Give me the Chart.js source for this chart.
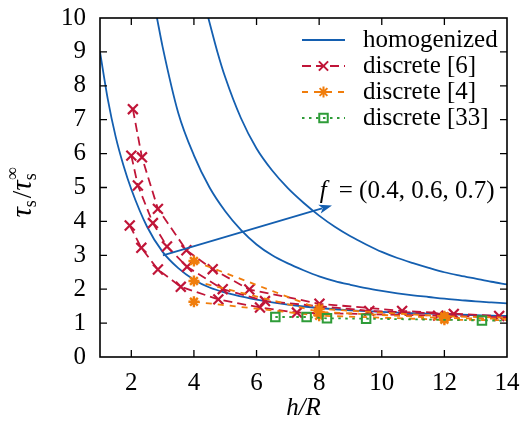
<!DOCTYPE html>
<html><head><meta charset="utf-8">
<script src="https://cdn.jsdelivr.net/npm/chart.js@4/dist/chart.umd.min.js"></script>
<style>html,body{margin:0;padding:0;background:#fff;}#wrap{width:520px;height:428px;}</style>
</head><body><div id="wrap"><canvas id="c" width="520" height="428"></canvas></div>
<script>
// ---- tick values ----
const xTickValues = [2, 4, 6, 8, 10, 12, 14];
const yTickValues = [0, 1, 2, 3, 4, 5, 6, 7, 8, 9, 10];

// ---- homogenized curves (f = 0.4, 0.6, 0.7) ----
const homX04 = [1, 1.25, 1.5, 1.75, 2, 2.5, 3, 3.5, 4, 4.5, 5, 5.5, 6, 6.5, 7, 7.5, 8, 8.5, 9, 9.5, 10, 10.5, 11, 11.5, 12, 12.5, 13, 13.5, 14];
const homY04 = [9.0, 7.6, 6.5, 5.65, 4.95, 3.85, 3.1, 2.62, 2.28, 2.05, 1.9, 1.79, 1.69, 1.61, 1.545, 1.49, 1.445, 1.408, 1.378, 1.352, 1.33, 1.31, 1.293, 1.277, 1.262, 1.248, 1.235, 1.222, 1.21];
const homX06 = [2.82, 3.0, 3.5, 4.0, 4.5, 5.0, 5.5, 6.0, 6.5, 7.0, 7.5, 8.0, 8.5, 9.0, 9.5, 10, 10.5, 11, 11.5, 12, 12.5, 13, 13.5, 14];
const homY06 = [10, 9.15, 7.2, 5.95, 5.0, 4.3, 3.75, 3.32, 3.0, 2.76, 2.56, 2.38, 2.24, 2.13, 2.03, 1.95, 1.88, 1.82, 1.77, 1.72, 1.68, 1.64, 1.61, 1.58];
const homX07 = [4.46, 4.75, 5.0, 5.5, 6.0, 6.5, 7.0, 7.5, 8.0, 8.5, 9.0, 9.5, 10, 10.5, 11, 11.5, 12, 12.5, 13, 13.5, 14];
const homY07 = [10, 9.0, 8.25, 7.05, 6.15, 5.5, 4.98, 4.55, 4.17, 3.84, 3.56, 3.32, 3.1, 2.92, 2.77, 2.63, 2.5, 2.4, 2.31, 2.22, 2.14];

// ---- discrete [6] ----
const d6X_a = [2.05, 2.34, 2.85, 3.76, 4.6, 5.77, 8.01, 10.65, 13.75];
const d6Y_a = [7.31, 5.89, 4.37, 3.15, 2.59, 1.99, 1.57, 1.36, 1.21];
const d6X_b = [2.0, 2.21, 2.69, 3.14, 3.78, 4.92, 6.27, 9.6, 12.3];
const d6Y_b = [5.94, 5.06, 3.95, 3.26, 2.66, 2.0, 1.65, 1.36, 1.27];
const d6X_c = [1.95, 2.32, 2.85, 3.58, 4.78, 6.11, 7.29, 11.8, 15.0];
const d6Y_c = [3.88, 3.22, 2.58, 2.07, 1.7, 1.46, 1.31, 1.22, 1.15];

// ---- discrete [4] ----
const d4X = [4, 8, 12, 16];
const d4Y_a = [2.83, 1.42, 1.2, 1.12];
const d4Y_b = [2.24, 1.33, 1.15, 1.1];
const d4Y_c = [1.63, 1.22, 1.1, 1.07];

// ---- discrete [33] ----
const d33X = [6.6, 7.6, 8.25, 9.5, 13.2, 15.5];
const d33Y = [1.18, 1.18, 1.14, 1.13, 1.08, 1.06];

// ---- annotation anchors (data coordinates) ----
const arrowFrom = [3.01, 3.0];
const arrowTo = [8.41, 4.47];
const fLabelAnchor = [13.6, 4.68];

const BLUE = '#145fb0';
const RED = '#c01538';
const ORANGE = '#f07d0c';
const GREEN = '#2e9c38';
const FONT = '"Liberation Serif", "Times New Roman", serif';
const FS = 25;

function pts(xs, ys) { return xs.map((x, i) => ({ x: x, y: ys[i] })); }

function homDS(xs, ys) {
  return { data: pts(xs, ys), borderColor: BLUE, borderWidth: 1.8, pointRadius: 0, showLine: true,
    cubicInterpolationMode: 'monotone', fill: false, order: 4 };
}
function redDS(xs, ys) {
  return { data: pts(xs, ys), borderColor: RED, borderWidth: 1.8, borderDash: [9, 5], showLine: true,
    pointStyle: 'crossRot', pointRadius: 7, pointBorderWidth: 2.2, pointBorderColor: RED,
    pointBackgroundColor: RED, tension: 0, fill: false, order: 3 };
}
function orangeDS(xs, ys) {
  return { data: pts(xs, ys), borderColor: ORANGE, borderWidth: 1.8, borderDash: [6, 6], showLine: true,
    pointStyle: 'star', pointRadius: 5.5, pointBorderWidth: 2.4, pointBorderColor: ORANGE,
    pointBackgroundColor: ORANGE, tension: 0, fill: false, order: 2 };
}
function greenDS(xs, ys) {
  return { data: pts(xs, ys), borderColor: GREEN, borderWidth: 1.8, borderDash: [2.5, 4.5], showLine: true,
    pointStyle: 'rect', pointRadius: 6, pointBorderWidth: 2, pointBorderColor: GREEN,
    pointBackgroundColor: 'rgba(0,0,0,0)', tension: 0, fill: false, order: 1 };
}

const legendItems = [
  { label: 'homogenized', color: BLUE, dash: [], marker: null },
  { label: 'discrete [6]', color: RED, dash: [9, 5], marker: 'crossRot', r: 6.5 },
  { label: 'discrete [4]', color: ORANGE, dash: [6, 6], marker: 'star', r: 5.5 },
  { label: 'discrete [33]', color: GREEN, dash: [2.5, 4.5], marker: 'rect', r: 6 }
];

const decor = {
  id: 'decor',
  afterDatasetsDraw(chart) {
    const ctx = chart.ctx, xs = chart.scales.x, ys = chart.scales.y;
    // arrow
    const x0 = xs.getPixelForValue(arrowFrom[0]), y0 = ys.getPixelForValue(arrowFrom[1]);
    const x1 = xs.getPixelForValue(arrowTo[0]), y1 = ys.getPixelForValue(arrowTo[1]);
    const ang = Math.atan2(y1 - y0, x1 - x0), hl = 13, hw = 4.5;
    const c = Math.cos(ang), s = Math.sin(ang);
    ctx.save();
    ctx.strokeStyle = BLUE; ctx.fillStyle = BLUE; ctx.lineWidth = 1.8;
    ctx.beginPath(); ctx.moveTo(x0, y0);
    ctx.lineTo(x1 - hl * 0.8 * c, y1 - hl * 0.8 * s); ctx.stroke();
    ctx.beginPath();
    ctx.moveTo(x1, y1);
    ctx.lineTo(x1 - hl * c + hw * s, y1 - hl * s - hw * c);
    ctx.lineTo(x1 - hl * 0.75 * c, y1 - hl * 0.75 * s);
    ctx.lineTo(x1 - hl * c - hw * s, y1 - hl * s + hw * c);
    ctx.closePath(); ctx.fill();
    // f label
    const lx = xs.getPixelForValue(fLabelAnchor[0]), ly = ys.getPixelForValue(fLabelAnchor[1]);
    ctx.fillStyle = '#000'; ctx.textBaseline = 'alphabetic';
    ctx.font = 'italic ' + FS + 'px ' + FONT;
    const fW = ctx.measureText('f').width;
    ctx.font = FS + 'px ' + FONT;
    const rest = '= (0.4, 0.6, 0.7)';
    const rW = ctx.measureText(rest).width;
    const gap = 12;
    ctx.textAlign = 'left';
    ctx.fillText(rest, lx - rW, ly);
    ctx.font = 'italic ' + FS + 'px ' + FONT;
    ctx.fillText('f', lx - rW - fW - gap, ly);
    ctx.restore();
  },
  afterDraw(chart) {
    const ctx = chart.ctx, a = chart.chartArea, xs = chart.scales.x, ys = chart.scales.y;
    ctx.save();
    // frame
    ctx.strokeStyle = '#000'; ctx.lineWidth = 1.6;
    ctx.strokeRect(a.left, a.top, a.right - a.left, a.bottom - a.top);
    // inward ticks
    ctx.lineWidth = 1.3;
    const tl = 7;
    ctx.beginPath();
    xTickValues.forEach(v => {
      const p = xs.getPixelForValue(v);
      if (p <= a.left + 1 || p >= a.right - 1) return;
      ctx.moveTo(p, a.bottom); ctx.lineTo(p, a.bottom - tl);
      ctx.moveTo(p, a.top); ctx.lineTo(p, a.top + tl);
    });
    yTickValues.forEach(v => {
      const p = ys.getPixelForValue(v);
      if (p <= a.top + 1 || p >= a.bottom - 1) return;
      ctx.moveTo(a.left, p); ctx.lineTo(a.left + tl, p);
      ctx.moveTo(a.right, p); ctx.lineTo(a.right - tl, p);
    });
    ctx.stroke();
    // legend
    const lx0 = a.right - 205, lx1 = a.right - 162, tx = a.right - 144;
    legendItems.forEach((it, i) => {
      const y = a.top + 22 + i * 26;
      ctx.save();
      ctx.strokeStyle = it.color; ctx.lineWidth = 1.8; ctx.setLineDash(it.dash);
      ctx.beginPath(); ctx.moveTo(lx0, y); ctx.lineTo(lx1, y); ctx.stroke();
      ctx.setLineDash([]);
      if (it.marker) {
        ctx.strokeStyle = it.color;
        ctx.fillStyle = it.marker === 'rect' ? 'rgba(0,0,0,0)' : it.color;
        ctx.lineWidth = 2;
        Chart.helpers.drawPoint(ctx, { pointStyle: it.marker, radius: it.r, borderWidth: 2, rotation: 0 }, (lx0 + lx1) / 2, y);
      }
      ctx.restore();
      ctx.fillStyle = '#000'; ctx.font = FS + 'px ' + FONT; ctx.textAlign = 'left'; ctx.textBaseline = 'alphabetic';
      ctx.fillText(it.label, tx, y + 7);
    });
    // y axis title: tau_s / tau_s^inf
    const cy = (a.top + a.bottom) / 2 + 5;
    ctx.translate(31, cy); ctx.rotate(-Math.PI / 2);
    const big = (FS + 2) + 'px ' + FONT, bigI = 'italic ' + (FS + 4) + 'px ' + FONT, small = '18px ' + FONT;
    ctx.font = bigI; const wT = ctx.measureText('\u03C4').width;
    ctx.font = small; const wS = ctx.measureText('s').width, wInf = ctx.measureText('\u221E').width;
    ctx.font = big; const wSl = ctx.measureText('/').width;
    const total = wT + wS + 2 + wSl + wT + Math.max(wS, wInf);
    let x = -total / 2;
    ctx.fillStyle = '#000'; ctx.textAlign = 'left'; ctx.textBaseline = 'alphabetic';
    ctx.font = bigI; ctx.fillText('\u03C4', x, 0); x += wT;
    ctx.font = small; ctx.fillText('s', x, 5); x += wS + 2;
    ctx.font = big; ctx.fillText('/', x, 0); x += wSl;
    ctx.font = bigI; ctx.fillText('\u03C4', x, 0); x += wT;
    ctx.font = small; ctx.fillText('s', x, 5); ctx.fillText('\u221E', x, -13);
    ctx.restore();
  }
};

const datasets = [
  homDS(homX04, homY04), homDS(homX06, homY06), homDS(homX07, homY07),
  redDS(d6X_a, d6Y_a), redDS(d6X_b, d6Y_b), redDS(d6X_c, d6Y_c),
  orangeDS(d4X, d4Y_a), orangeDS(d4X, d4Y_b), orangeDS(d4X, d4Y_c),
  greenDS(d33X, d33Y)
];

function zeroPad(s) { s.paddingLeft = 0; s.paddingRight = 0; s.paddingTop = 0; s.paddingBottom = 0; }

new Chart(document.getElementById('c'), {
  type: 'scatter',
  data: { datasets: datasets },
  options: {
    responsive: false, devicePixelRatio: 1, animation: false,
    layout: { padding: { top: 18, right: 13, left: 0, bottom: 0 } },
    plugins: { legend: { display: false }, tooltip: { enabled: false } },
    scales: {
      x: {
        type: 'linear', min: 1, max: 14,
        afterBuildTicks: s => { s.ticks = xTickValues.map(v => ({ value: v })); },
        afterFit: s => { s.height = 71; zeroPad(s); },
        grid: { display: false, drawTicks: false }, border: { display: false },
        ticks: { color: '#000', font: { family: FONT, size: FS }, padding: 11, maxRotation: 0, autoSkip: false },
        title: { display: true, text: 'h/R', color: '#000', font: { family: FONT, size: FS, style: 'italic' }, padding: { top: 4, bottom: 5 } }
      },
      y: {
        type: 'linear', min: 0, max: 10,
        afterBuildTicks: s => { s.ticks = yTickValues.map(v => ({ value: v })); },
        afterFit: s => { s.width = 100; zeroPad(s); },
        grid: { display: false, drawTicks: false }, border: { display: false },
        ticks: { color: '#000', font: { family: FONT, size: FS }, padding: 14, autoSkip: false }
      }
    }
  },
  plugins: [decor]
});
</script></body></html>
